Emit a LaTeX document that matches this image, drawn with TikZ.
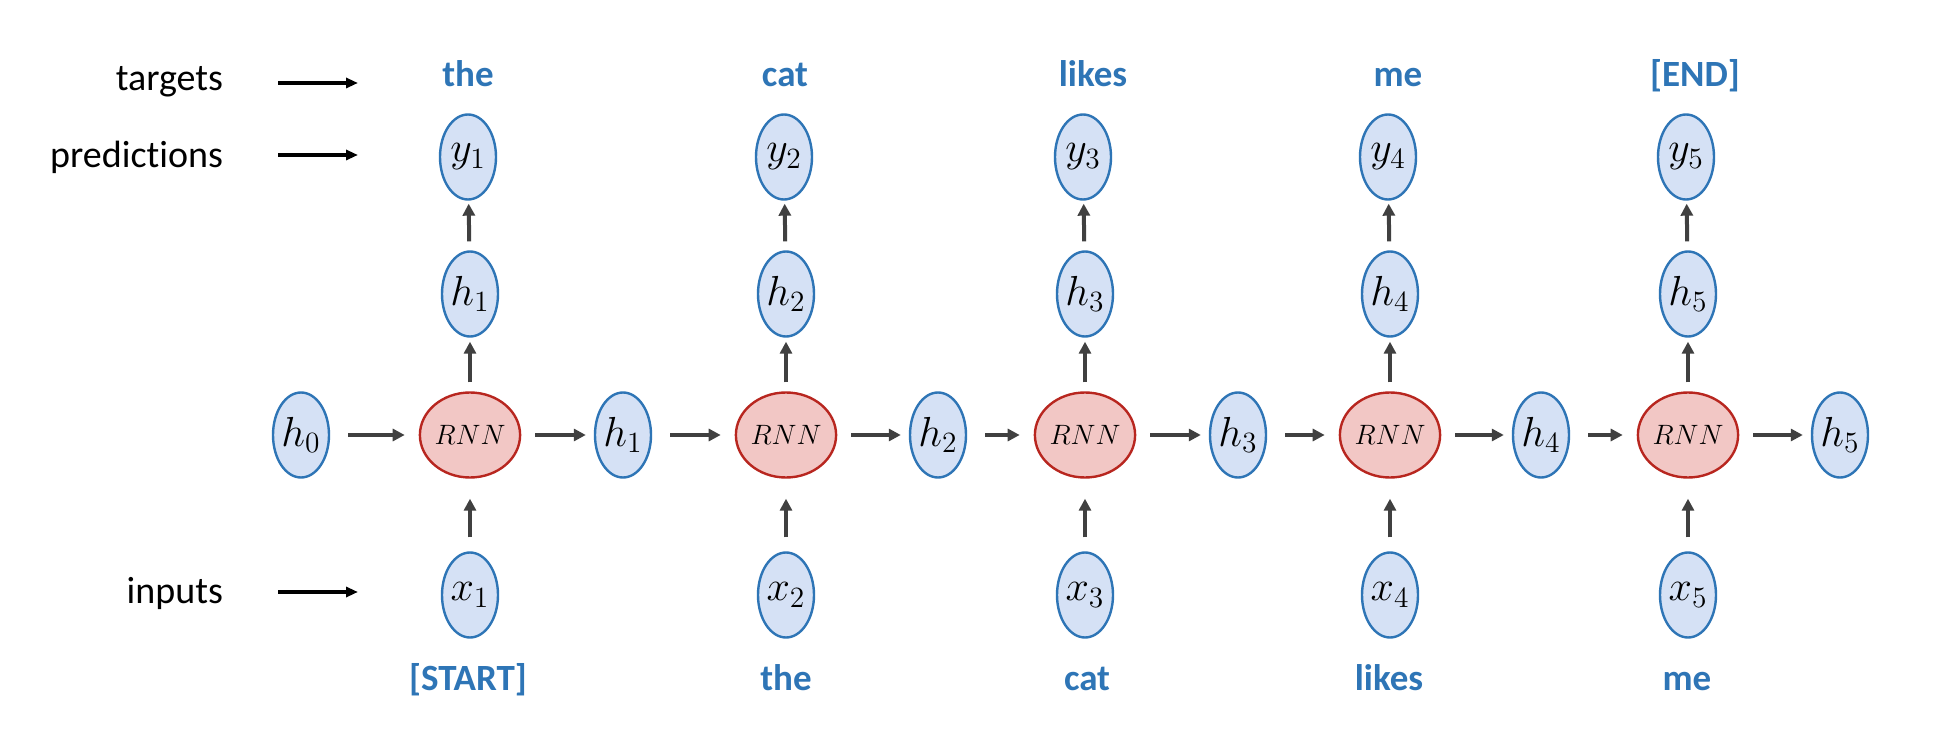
\RequirePackage{fix-cm}
\documentclass[tikz,border=0pt]{standalone}
\usepackage{fontspec}
\setmainfont{Carlito}[Ligatures=NoCommon]
\usetikzlibrary{shapes.geometric,arrows.meta}
\definecolor{lblue}{HTML}{D5E1F5}
\definecolor{eblue}{HTML}{2E75B6}
\definecolor{tblue}{HTML}{2E75B6}
\definecolor{rfill}{HTML}{F2C7C5}
\definecolor{rborder}{HTML}{B8261F}
\definecolor{agray}{HTML}{404040}
\tikzset{
  hn/.style={ellipse, draw=eblue, fill=lblue, line width=1.2pt, minimum width=28pt, minimum height=42.5pt, inner sep=0pt, font=\fontsize{21pt}{23pt}\selectfont},
  rnn/.style={ellipse, draw=rborder, fill=rfill, line width=1.2pt, minimum width=48pt, minimum height=42.5pt, inner sep=0pt, font=\fontsize{14pt}{16pt}\selectfont},
  conn/.style={draw=agray, line width=2pt, -{Triangle[length=6pt,width=6pt]}},
  bluelab/.style={text=tblue, font=\fontsize{18.5pt}{20pt}\selectfont\bfseries, anchor=base},
  leftlab/.style={font=\fontsize{19pt}{21pt}\selectfont, anchor=base east},
  leftarr/.style={draw=black, line width=1.6pt, -{Triangle[length=6pt,width=5pt]}}
}
\begin{document}
\begin{tikzpicture}[x=0.5pt,y=-0.5pt]
\useasboundingbox (0,0) rectangle (1956,754);
\fill[white] (0,0) rectangle (1956,754);
% left labels
\node[leftlab] (lt) at (230,91) {targets};
\node[leftlab] (lp) at (230,168) {predictions};
\node[leftlab] (li) at (230,603) {inputs};
\coordinate (ta) at (278,83); \coordinate (tb) at (358,83);
\coordinate (pa) at (278,155); \coordinate (pb) at (358,155);
\coordinate (ia) at (278,592); \coordinate (ib) at (358,592);
\draw[leftarr] (ta) -- (tb);
\draw[leftarr] (pa) -- (pb);
\draw[leftarr] (ia) -- (ib);
% horizontal hidden states
\foreach \i/\m in {0/301,1/623,2/938,3/1238,4/1541,5/1840}{
  \node[hn] (hm\i) at (\m,435) {$h_{\i}$};
}
% columns
\foreach \i/\c/\tx/\tl/\bx/\bl in {1/470/468/the/468/{[START]},2/786/785/cat/786/the,3/1085/1093/likes/1087/cat,4/1390/1398/me/1389/likes,5/1688/1695/{[END]}/1687/me}{
  \node[rnn] (r\i) at (\c,435) {$RNN$};
  \node[hn] (ht\i) at (\c,294) {$h_{\i}$};
  \node[hn] (y\i) at ({\c-2},157) {$y_{\i}$};
  \node[hn] (x\i) at (\c,595) {$x_{\i}$};
  \node[bluelab] (tl\i) at (\tx,87) {\tl};
  \node[bluelab] (bl\i) at (\bx,690) {\bl};
  \draw[conn, shorten <=7pt, shorten >=10pt] (x\i) -- (r\i);
  \draw[conn, shorten <=4.5pt, shorten >=2pt] (r\i) -- (ht\i);
  \draw[conn, shorten <=4.5pt, shorten >=1.5pt] (ht\i) -- (y\i);
}
\foreach \i [count=\j from 0] in {1,2,3,4,5}{
  \draw[conn, shorten <=9pt, shorten >=7pt] (hm\j) -- (r\i);
  \draw[conn, shorten <=7pt, shorten >=4pt] (r\i) -- (hm\i);
}
\end{tikzpicture}
\end{document}
